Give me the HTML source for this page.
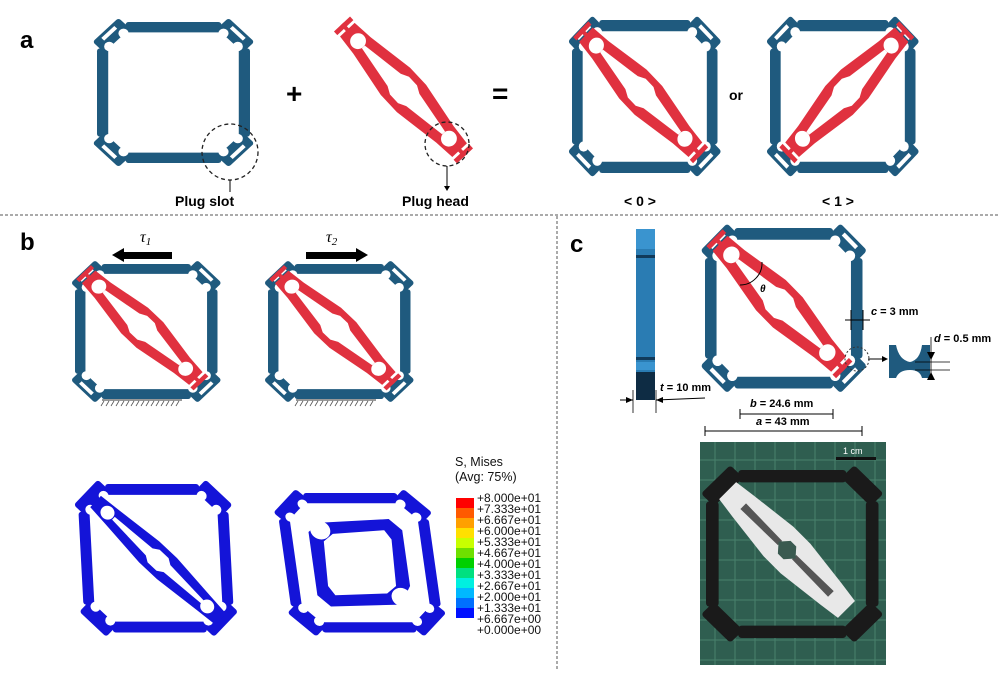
<!DOCTYPE html>
<html><head><meta charset="utf-8"><style>
html,body{margin:0;padding:0;background:#fff;}
svg{display:block;font-family:"Liberation Sans",Arial,sans-serif;}
</style></head><body>
<svg width="999" height="673" viewBox="0 0 999 673" xmlns="http://www.w3.org/2000/svg">
<defs>
<g id="fr">
 <rect x="28" y="0" width="94" height="11" rx="3"/>
 <rect x="28" y="139" width="94" height="11" rx="3"/>
 <rect x="0" y="28" width="11" height="94" rx="3"/>
 <rect x="139" y="28" width="11" height="94" rx="3"/>
 <rect x="-18" y="-8" width="36" height="16" rx="3" transform="translate(14,14) rotate(-45)"/>
 <rect x="-18" y="-8" width="36" height="16" rx="3" transform="translate(136,14) rotate(45)"/>
 <rect x="-18" y="-8" width="36" height="16" rx="3" transform="translate(14,136) rotate(45)"/>
 <rect x="-18" y="-8" width="36" height="16" rx="3" transform="translate(136,136) rotate(-45)"/>
</g>
<g id="holes" fill="#fff">
 <circle cx="26" cy="12" r="5"/><circle cx="12" cy="26" r="5"/>
 <circle cx="124" cy="12" r="5"/><circle cx="138" cy="26" r="5"/>
 <circle cx="26" cy="138" r="5"/><circle cx="12" cy="124" r="5"/>
 <circle cx="124" cy="138" r="5"/><circle cx="138" cy="124" r="5"/>
</g>
<g id="slots" fill="#fff">
 <rect x="-9" y="-2" width="18" height="4" transform="translate(12,12) rotate(-45)"/>
 <rect x="-9" y="-2" width="18" height="4" transform="translate(138,12) rotate(45)"/>
 <rect x="-9" y="-2" width="18" height="4" transform="translate(12,138) rotate(45)"/>
 <rect x="-9" y="-2" width="18" height="4" transform="translate(138,138) rotate(-45)"/>
</g>
<g id="lk">
 <g fill="#e0313f">
 <rect x="0" y="-11" width="5" height="22"/><rect x="179" y="-11" width="5" height="22"/>
 <rect x="0" y="-2" width="184" height="4"/>
 <polygon points="8,-10 30,-12 80,-20 104,-20 154,-12 176,-10 176,10 154,12 104,20 80,20 30,12 8,10"/>
 </g>
 <g fill="#fff">
 <circle cx="24" cy="0" r="8"/><circle cx="160" cy="0" r="8"/>
 <polygon points="32,-2 78,-9 86,-13 98,-13 106,-9 152,-2 152,2 106,9 98,13 86,13 78,9 32,2"/>
 </g>
</g>
</defs>

<text x="20" y="48" font-size="24" font-weight="bold">a</text>
<text x="20" y="250" font-size="24" font-weight="bold">b</text>
<text x="570" y="252" font-size="24" font-weight="bold">c</text>
<line x1="0" y1="215" x2="999" y2="215" stroke="#555" stroke-dasharray="3,2"/>
<line x1="557" y1="216" x2="557" y2="670" stroke="#555" stroke-dasharray="3,2"/>

<!-- panel a -->
<g transform="translate(97,22) scale(1.02,0.94)"><g fill="#1f5a7e"><use href="#fr"/></g><use href="#holes"/><use href="#slots"/></g>
<circle cx="230" cy="152" r="28" fill="none" stroke="#222" stroke-dasharray="4,3" stroke-width="1.3"/>
<line x1="230" y1="180" x2="230" y2="192" stroke="#000"/>
<text x="175" y="206" font-size="14" font-weight="bold">Plug slot</text>
<text x="286" y="103" font-size="28" font-weight="bold">+</text>
<g transform="translate(342,24) rotate(47) scale(0.98,1)"><use href="#lk"/></g>
<circle cx="447" cy="144" r="22" fill="none" stroke="#222" stroke-dasharray="4,3" stroke-width="1.3"/>
<line x1="447" y1="166" x2="447" y2="188" stroke="#000"/>
<polygon points="444,186 450,186 447,191" fill="#000"/>
<text x="402" y="206" font-size="14" font-weight="bold">Plug head</text>
<text x="492" y="103" font-size="28" font-weight="bold">=</text>

<g transform="translate(572,20) scale(0.97,1.02)">
 <g fill="#1f5a7e"><use href="#fr"/></g><use href="#holes"/><use href="#slots"/>
 <g transform="translate(9,9) rotate(45)"><use href="#lk" transform="scale(0.95,1)"/></g>
</g>
<text x="729" y="100" font-size="14" font-weight="bold">or</text>
<g transform="translate(770,20) scale(0.97,1.02)">
 <g fill="#1f5a7e"><use href="#fr"/></g><use href="#holes"/><use href="#slots"/>
 <g transform="translate(141,9) rotate(135)"><use href="#lk" transform="scale(0.95,1)"/></g>
</g>
<text x="624" y="206" font-size="14" font-weight="bold">&lt; 0 &gt;</text>
<text x="822" y="206" font-size="14" font-weight="bold">&lt; 1 &gt;</text>

<!-- panel b -->
<text x="140" y="242" font-size="16" font-style="italic" font-family="Liberation Serif">τ<tspan font-size="11" dy="3">1</tspan></text>
<polygon points="112,255 124,248 124,252 172,252 172,259 124,259 124,262" fill="#000"/>
<text x="326" y="242" font-size="16" font-style="italic" font-family="Liberation Serif">τ<tspan font-size="11" dy="3">2</tspan></text>
<polygon points="368,255 356,248 356,252 306,252 306,259 356,259 356,262" fill="#000"/>
<g transform="translate(75,264) scale(0.95,0.9)">
 <g fill="#1f5a7e"><use href="#fr"/></g><use href="#holes"/><use href="#slots"/>
 <g transform="translate(9,9) rotate(45)"><use href="#lk" transform="scale(0.95,1)"/></g>
</g>
<g transform="translate(268,264) scale(0.95,0.9)">
 <g fill="#1f5a7e"><use href="#fr"/></g><use href="#holes"/><use href="#slots"/>
 <g transform="translate(9,9) rotate(45)"><use href="#lk" transform="scale(0.95,1)"/></g>
</g>
<g stroke="#333" stroke-width="1">
 <line x1="102" y1="400" x2="182" y2="400"/><line x1="296" y1="400" x2="376" y2="400"/>
</g>
<g stroke="#555" stroke-width="0.8">
 <path d="M104,401 l-3,5 M109,401 l-3,5 M114,401 l-3,5 M119,401 l-3,5 M124,401 l-3,5 M129,401 l-3,5 M134,401 l-3,5 M139,401 l-3,5 M144,401 l-3,5 M149,401 l-3,5 M154,401 l-3,5 M159,401 l-3,5 M164,401 l-3,5 M169,401 l-3,5 M174,401 l-3,5 M179,401 l-3,5"/>
 <path d="M298,401 l-3,5 M303,401 l-3,5 M308,401 l-3,5 M313,401 l-3,5 M318,401 l-3,5 M323,401 l-3,5 M328,401 l-3,5 M333,401 l-3,5 M338,401 l-3,5 M343,401 l-3,5 M348,401 l-3,5 M353,401 l-3,5 M358,401 l-3,5 M363,401 l-3,5 M368,401 l-3,5 M373,401 l-3,5"/>
</g>

<!-- stress plots -->
<g transform="translate(77,484) scale(1.0,0.99) skewX(3)">
 <g fill="#1414d8"><use href="#fr"/></g><use href="#holes"/>
 <g transform="translate(12,12) rotate(45)">
  <polygon points="8,-8 30,-10 80,-15 104,-15 154,-10 176,-8 176,8 154,10 104,15 80,15 30,10 8,8" fill="#1414d8"/>
  <g fill="#fff"><circle cx="24" cy="0" r="7"/><circle cx="158" cy="0" r="7"/><polygon points="32,-2 80,-5 86,-9 98,-9 104,-5 152,-2 152,2 104,5 98,9 86,9 80,5 32,2"/></g>
 </g>
</g>
<g transform="translate(275,493) skewX(8) scale(1.0,0.93)">
 <g fill="#1414d8"><use href="#fr"/></g><use href="#holes"/>
 <polygon points="40,32 110,28 122,40 122,100 110,120 40,122 28,110 28,42" fill="#1414d8"/>
 <polygon points="52,44 104,40 110,50 108,100 98,108 46,110 40,100 42,52" fill="#fff"/>
 <circle cx="40" cy="40" r="10" fill="#fff"/><circle cx="112" cy="112" r="10" fill="#fff"/>
</g>
<g font-size="12.5" fill="#111">
 <text x="455" y="466">S, Mises</text>
 <text x="455" y="481">(Avg: 75%)</text>
</g>
<g>
 <rect x="456" y="498" width="18" height="10" fill="#ff0000"/>
 <rect x="456" y="508" width="18" height="10" fill="#ff5a00"/>
 <rect x="456" y="518" width="18" height="10" fill="#ffa000"/>
 <rect x="456" y="528" width="18" height="10" fill="#ffe000"/>
 <rect x="456" y="538" width="18" height="10" fill="#c8ff00"/>
 <rect x="456" y="548" width="18" height="10" fill="#6ee000"/>
 <rect x="456" y="558" width="18" height="10" fill="#00d000"/>
 <rect x="456" y="568" width="18" height="10" fill="#00e080"/>
 <rect x="456" y="578" width="18" height="10" fill="#00f0e0"/>
 <rect x="456" y="588" width="18" height="10" fill="#00b8ff"/>
 <rect x="456" y="598" width="18" height="10" fill="#0070ff"/>
 <rect x="456" y="608" width="18" height="10" fill="#0010ff"/>
</g>
<g font-size="12" fill="#111">
 <text x="477" y="502">+8.000e+01</text><text x="477" y="513">+7.333e+01</text>
 <text x="477" y="524">+6.667e+01</text><text x="477" y="535">+6.000e+01</text>
 <text x="477" y="546">+5.333e+01</text><text x="477" y="557">+4.667e+01</text>
 <text x="477" y="568">+4.000e+01</text><text x="477" y="579">+3.333e+01</text>
 <text x="477" y="590">+2.667e+01</text><text x="477" y="601">+2.000e+01</text>
 <text x="477" y="612">+1.333e+01</text><text x="477" y="623">+6.667e+00</text>
 <text x="477" y="634">+0.000e+00</text>
</g>

<!-- panel c -->
<rect x="636" y="229" width="19" height="171" fill="#2a7cb3"/>
<rect x="636" y="229" width="19" height="20" fill="#3a94cf"/>
<rect x="636" y="255" width="19" height="3" fill="#113a5a"/>
<rect x="636" y="357" width="19" height="3" fill="#113a5a"/>
<rect x="636" y="362" width="19" height="8" fill="#3a94cf"/>
<rect x="636" y="372" width="19" height="28" fill="#0e2c44"/>
<line x1="633" y1="390" x2="633" y2="413" stroke="#000" stroke-width="0.8"/>
<line x1="656" y1="390" x2="656" y2="413" stroke="#000" stroke-width="0.8"/>
<line x1="620" y1="400" x2="633" y2="400" stroke="#000"/><polygon points="633,400 626,397 626,403"/>
<line x1="656" y1="400" x2="705" y2="398" stroke="#000"/><polygon points="656,400 663,397 663,403"/>
<text x="660" y="391" font-size="11" font-weight="bold"><tspan font-style="italic">t</tspan> = 10 mm</text>

<g transform="translate(705,228) scale(1.05,1.07)">
 <g fill="#1f5a7e"><use href="#fr"/></g><use href="#holes"/><use href="#slots"/>
 <g transform="translate(9,9) rotate(45)"><use href="#lk" transform="scale(0.95,1)"/></g>
</g>
<path d="M740,285 A22,22 0 0 0 762,262" fill="none" stroke="#000"/>
<text x="760" y="292" font-size="10" font-style="italic" font-weight="bold">θ</text>
<line x1="845" y1="320" x2="870" y2="320" stroke="#000"/>
<line x1="851" y1="310" x2="851" y2="330" stroke="#000"/><line x1="863" y1="310" x2="863" y2="330" stroke="#000"/>
<text x="871" y="315" font-size="11" font-weight="bold"><tspan font-style="italic">c</tspan> = 3 mm</text>
<circle cx="857" cy="359" r="12" fill="none" stroke="#333" stroke-dasharray="2,2"/>
<line x1="868" y1="359" x2="885" y2="359" stroke="#000"/><polygon points="888,359 882,356 882,362"/>
<path d="M889,345 L896,345 Q899,360 910,362 Q920,360 922,345 L930,345 L930,378 L922,378 Q920,370 910,370 Q899,370 896,378 L889,378 Z" fill="#1f5a7e"/>
<line x1="931" y1="337" x2="931" y2="380" stroke="#000" stroke-width="0.8"/>
<line x1="915" y1="362" x2="950" y2="362" stroke="#000" stroke-width="0.8"/>
<line x1="915" y1="370" x2="950" y2="370" stroke="#000" stroke-width="0.8"/>
<polygon points="927,352 935,352 931,360"/><polygon points="927,380 935,380 931,372"/>
<text x="934" y="342" font-size="11" font-weight="bold"><tspan font-style="italic">d</tspan> = 0.5 mm</text>
<text x="750" y="407" font-size="11" font-weight="bold"><tspan font-style="italic">b</tspan> = 24.6 mm</text>
<line x1="740" y1="414" x2="833" y2="414" stroke="#000"/>
<line x1="740" y1="409" x2="740" y2="419" stroke="#000"/><line x1="833" y1="409" x2="833" y2="419" stroke="#000"/>
<text x="756" y="425" font-size="11" font-weight="bold"><tspan font-style="italic">a</tspan> = 43 mm</text>
<line x1="705" y1="431" x2="862" y2="431" stroke="#000"/>
<line x1="705" y1="426" x2="705" y2="436" stroke="#000"/><line x1="862" y1="426" x2="862" y2="436" stroke="#000"/>

<!-- photo -->
<rect x="700" y="442" width="186" height="223" fill="#2f5e50"/>
<g stroke="#4f8a74" stroke-width="1" opacity="0.8">
 <path d="M700,460H886M700,480H886M700,500H886M700,520H886M700,540H886M700,560H886M700,580H886M700,600H886M700,620H886M700,640H886M700,660H886"/>
 <path d="M715,442V665M735,442V665M755,442V665M775,442V665M795,442V665M815,442V665M835,442V665M855,442V665M875,442V665"/>
</g>
<rect x="836" y="457" width="40" height="3" fill="#111"/>
<text x="843" y="454" font-size="9" fill="#fff">1 cm</text>
<g transform="translate(706,470) scale(1.15,1.12)" fill="#1a1a1a"><use href="#fr"/></g>
<g transform="translate(722,485) rotate(45)">
 <polygon points="8,-12 30,-15 80,-21 104,-21 154,-15 176,-12 176,12 154,15 104,21 80,21 30,15 8,12" fill="#e8e8e8"/>
 <polygon points="30,-4 82,-3 82,3 30,4" fill="#555"/><polygon points="102,-3 154,-4 154,4 102,3" fill="#555"/>
 <polygon points="80,0 88,-9 96,-9 104,0 96,9 88,9" fill="#3a5a50"/>
</g>
</svg>
</body></html>
